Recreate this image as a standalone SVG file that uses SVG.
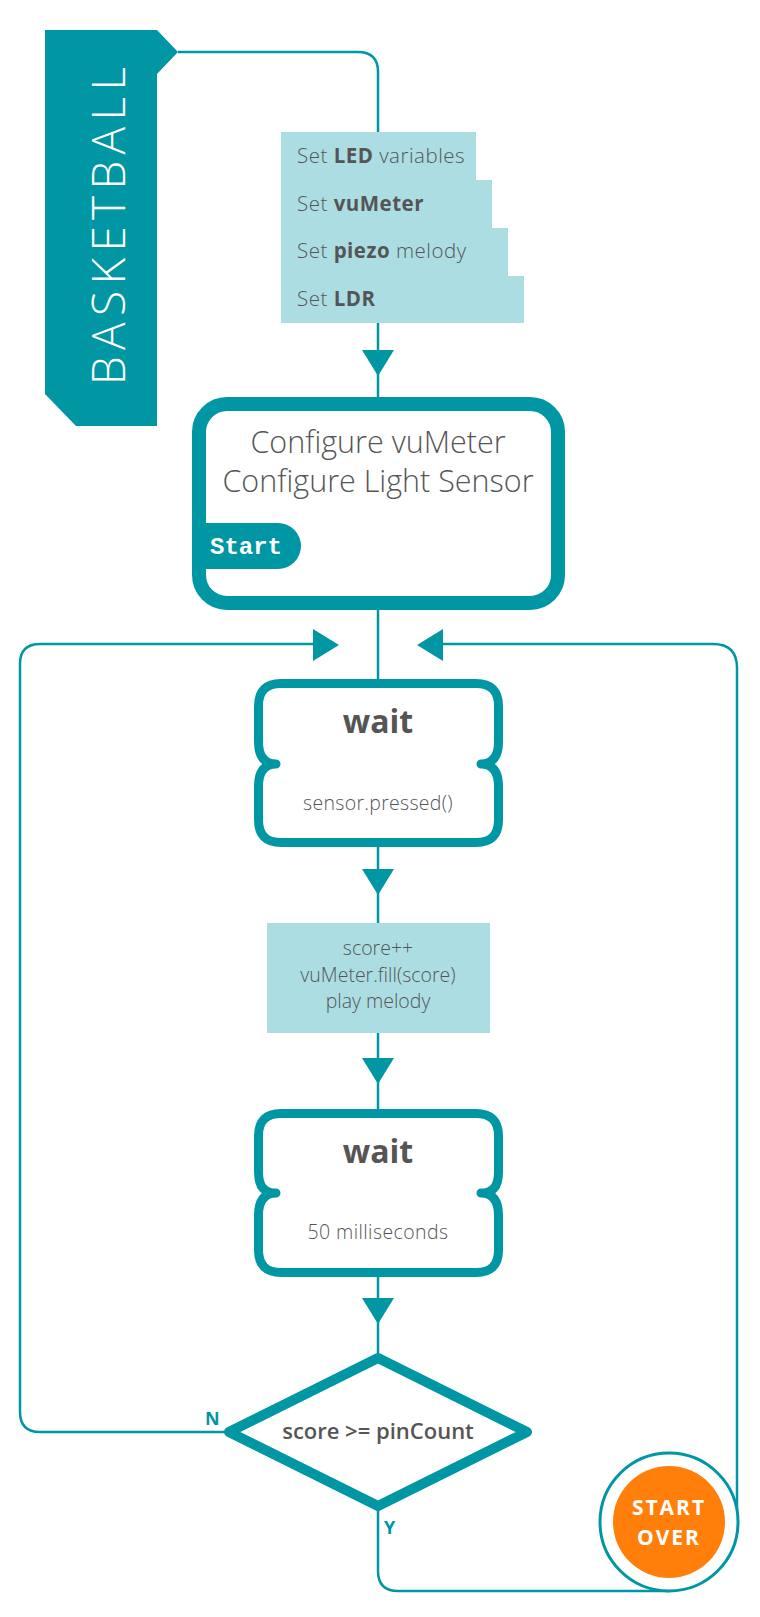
<svg xmlns="http://www.w3.org/2000/svg" width="760" height="1617" viewBox="0 0 760 1617">
<defs>
<style>
.ln{fill:none;stroke:#0096A4;stroke-width:2.5}
.ah{fill:#0096A4}
.node{fill:#fff;stroke:#0096A4;stroke-linejoin:round}
.lite{font-family:"Open Sans","Liberation Sans",sans-serif;font-weight:300;fill:#555}
.bold{font-family:"Open Sans","Liberation Sans",sans-serif;font-weight:700;fill:#555}
.set{font-family:"Open Sans","Liberation Sans",sans-serif;font-size:20.5px;letter-spacing:0.5px;fill:#555;font-weight:300}
.set tspan.b{font-weight:700}
.lbl{font-family:"Open Sans","Liberation Sans",sans-serif;font-weight:700;fill:#0096A4;font-size:18px}
</style>
</defs>
<rect width="760" height="1617" fill="#fff"/>
<g id="connectors">
<path class="ln" d="M178,52 H358 Q378,52 378,72 V132"/>
<path class="ln" d="M378,323 V397"/>
<polygon class="ah" points="362,350 394,350 378,376"/>
<path class="ln" d="M378,610 V679"/>
<path class="ln" d="M378,847 V923"/>
<polygon class="ah" points="362,869 394,869 378,895"/>
<path class="ln" d="M378,1033 V1109"/>
<polygon class="ah" points="362,1058 394,1058 378,1084"/>
<path class="ln" d="M378,1277 V1355"/>
<polygon class="ah" points="362,1298 394,1298 378,1324"/>
<path class="ln" d="M229,1432 H40 Q20,1432 20,1412 V664 Q20,644 40,644 H314"/>
<polygon class="ah" points="313,629 313,661 339,645"/>
<path class="ln" d="M378,1508 V1571 Q378,1591 398,1591 H669"/>
<path class="ln" d="M737,1522 V668 Q737,644 713,644 H443"/>
<polygon class="ah" points="443,629 443,661 417,645"/>
<text class="lbl" x="205" y="1425">N</text>
<text class="lbl" x="384" y="1534">Y</text>
</g>
<g id="banner">
<polygon points="45,30 157,30 178,52 157,74 157,426 76,426 45,394" fill="#0096A4"/>
<text transform="translate(125,385) rotate(-90)" x="0" y="0" font-family="'Open Sans','Liberation Sans',sans-serif" font-weight="300" font-size="46" fill="#fff" textLength="318" lengthAdjust="spacing">BASKETBALL</text>
</g>
<g id="setup">
<path d="M281,132 H476 V180 H492 V228 H508 V276 H524 V323 H281 Z" fill="#ABDDE3"/>
<text class="set" x="297" y="163">Set <tspan class="b">LED</tspan> variables</text>
<text class="set" x="297" y="211">Set <tspan class="b">vuMeter</tspan></text>
<text class="set" x="297" y="258">Set <tspan class="b">piezo</tspan> melody</text>
<text class="set" x="297" y="306">Set <tspan class="b">LDR</tspan></text>
</g>
<g id="configure">
<rect class="node" x="199" y="404" width="359" height="199" rx="28" stroke-width="14"/>
<text class="lite" x="378" y="453" font-size="30.5" text-anchor="middle">Configure vuMeter</text>
<text class="lite" x="378" y="492" font-size="30.5" text-anchor="middle">Configure Light Sensor</text>
<path d="M206,523 H278 A23,23 0 0 1 278,569 H206 Z" fill="#0096A4"/>
<text x="210" y="554" font-family="'Liberation Mono',monospace" font-weight="700" font-size="24" fill="#fff">Start</text>
</g>
<g id="wait1">
<path class="node" stroke-width="9" d="M281,683.5 H476 Q498.5,683.5 498.5,706 V742 C498.5,756 493,764 481,764 C493,764 498.5,772 498.5,786 V820 Q498.5,842.5 476,842.5 H281 Q258.5,842.5 258.5,820 V786 C258.5,772 264,764 276,764 C264,764 258.5,756 258.5,742 V706 Q258.5,683.5 281,683.5 Z"/>
<text class="bold" x="378" y="733" font-size="32" text-anchor="middle">wait</text>
<text class="lite" x="378" y="810" font-size="19.5" letter-spacing="0.3" text-anchor="middle">sensor.pressed()</text>
</g>
<g id="update">
<rect x="267" y="923" width="223" height="110" fill="#ABDDE3"/>
<text class="lite" x="378" y="955" font-size="19.5" text-anchor="middle">score++</text>
<text class="lite" x="378" y="982" font-size="19.5" text-anchor="middle">vuMeter.fill(score)</text>
<text class="lite" x="378" y="1008" font-size="19.5" text-anchor="middle">play melody</text>
</g>
<g id="wait2">
<path class="node" stroke-width="9" d="M281,1113.5 H476 Q498.5,1113.5 498.5,1136 V1172 C498.5,1186 493,1193 481,1193 C493,1193 498.5,1201 498.5,1215 V1250 Q498.5,1272.5 476,1272.5 H281 Q258.5,1272.5 258.5,1250 V1215 C258.5,1201 264,1193 276,1193 C264,1193 258.5,1186 258.5,1172 V1136 Q258.5,1113.5 281,1113.5 Z"/>
<text class="bold" x="378" y="1163" font-size="32" text-anchor="middle">wait</text>
<text class="lite" x="378" y="1239" font-size="19.5" letter-spacing="0.4" text-anchor="middle">50 milliseconds</text>
</g>
<g id="decision">
<polygon class="node" stroke-width="10" points="378,1358 527,1432 378,1506 229,1432"/>
<text x="378" y="1439" font-family="'Open Sans','Liberation Sans',sans-serif" font-weight="600" font-size="22" fill="#555" text-anchor="middle">score &gt;= pinCount</text>
</g>
<g id="startover">
<circle cx="669" cy="1522" r="69" fill="#fff" stroke="#0096A4" stroke-width="3"/>
<circle cx="669" cy="1522" r="56" fill="#FF7F0A"/>
<text x="669" y="1515" font-family="'Open Sans','Liberation Sans',sans-serif" font-weight="700" font-size="21" fill="#fff" text-anchor="middle" letter-spacing="2">START</text>
<text x="669" y="1545" font-family="'Open Sans','Liberation Sans',sans-serif" font-weight="700" font-size="21" fill="#fff" text-anchor="middle" letter-spacing="2">OVER</text>
</g>
</svg>
